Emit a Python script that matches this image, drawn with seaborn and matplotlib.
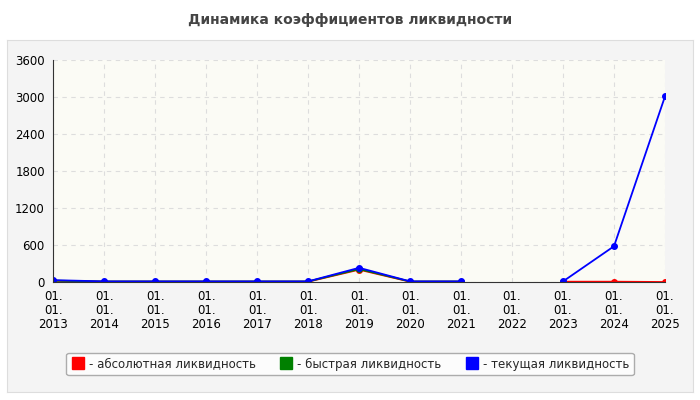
import numpy as np
import matplotlib
matplotlib.use("Agg")
import matplotlib.pyplot as plt
import seaborn as sns
import pandas as pd

labels = [f"01.\n01.\n{y}" for y in range(2013, 2026)]
absolute = [20, 5, 5, 5, 5, 5, 200, 5, 5, np.nan, 5, 5, 0]
quick = [22, 8, 8, 8, 8, 8, 210, 8, 8, np.nan, 8, np.nan, np.nan]
current = [30, 10, 10, 10, 10, 10, 230, 10, 10, np.nan, 10, 580, 3010]
series_names = ["- абсолютная ликвидность", "- быстрая ликвидность", "- текущая ликвидность"]
colors = ["red", "green", "blue"]

sns.set_style("white")
plt.rcParams['font.family'] = ['DejaVu Sans']
fig = plt.figure(figsize=(7, 4), dpi=100)
fig.patch.set_facecolor("white")
bg = fig.add_axes([0.01, 0.02, 0.98, 0.88])
bg.set_facecolor("#f4f4f4"); bg.set_xticks([]); bg.set_yticks([])
for s in bg.spines.values(): s.set_color("#dddddd")
fig.text(0.5, 0.95, "Динамика коэффициентов ликвидности", ha="center", va="center",
         fontsize=10, fontweight="bold", color="#444444")
ax = fig.add_axes([0.076, 0.295, 0.874, 0.555])
ax.set_facecolor("#fbfbf5")
x = np.arange(len(labels))
for vals, name, c in zip([absolute, quick, current], series_names, colors):
    df = pd.DataFrame({"x": x, "y": vals})
    ax.plot(df.x, df.y, color=c, lw=1.3, marker="o", ms=4, label=name)
ax.set_xlim(0, 12); ax.set_ylim(0, 3600)
ax.set_yticks(range(0, 3601, 600))
ax.set_xticks(x); ax.set_xticklabels(labels, fontsize=8.5, color="black", linespacing=1.1)
ax.tick_params(axis="y", labelsize=8.5, length=0, pad=6, labelcolor="black")
ax.tick_params(axis="x", length=0, pad=6)
ax.grid(True, ls=(0, (4, 4)), color="#dddddd", lw=0.8)
for s in ["top", "right"]: ax.spines[s].set_visible(False)
ax.spines["left"].set_color("#333"); ax.spines["bottom"].set_color("#333")
leg = fig.legend(loc="center", bbox_to_anchor=(0.5, 0.09), ncol=3, fontsize=8.5,
                 frameon=True, edgecolor="#999", fancybox=True, handlelength=1.2,
                 handletextpad=0.3, columnspacing=2)
for h, c in zip(leg.legend_handles, colors):
    h.set_marker("s"); h.set_linestyle("none"); h.set_markersize(8)
fig.savefig("out.png", dpi=100)
